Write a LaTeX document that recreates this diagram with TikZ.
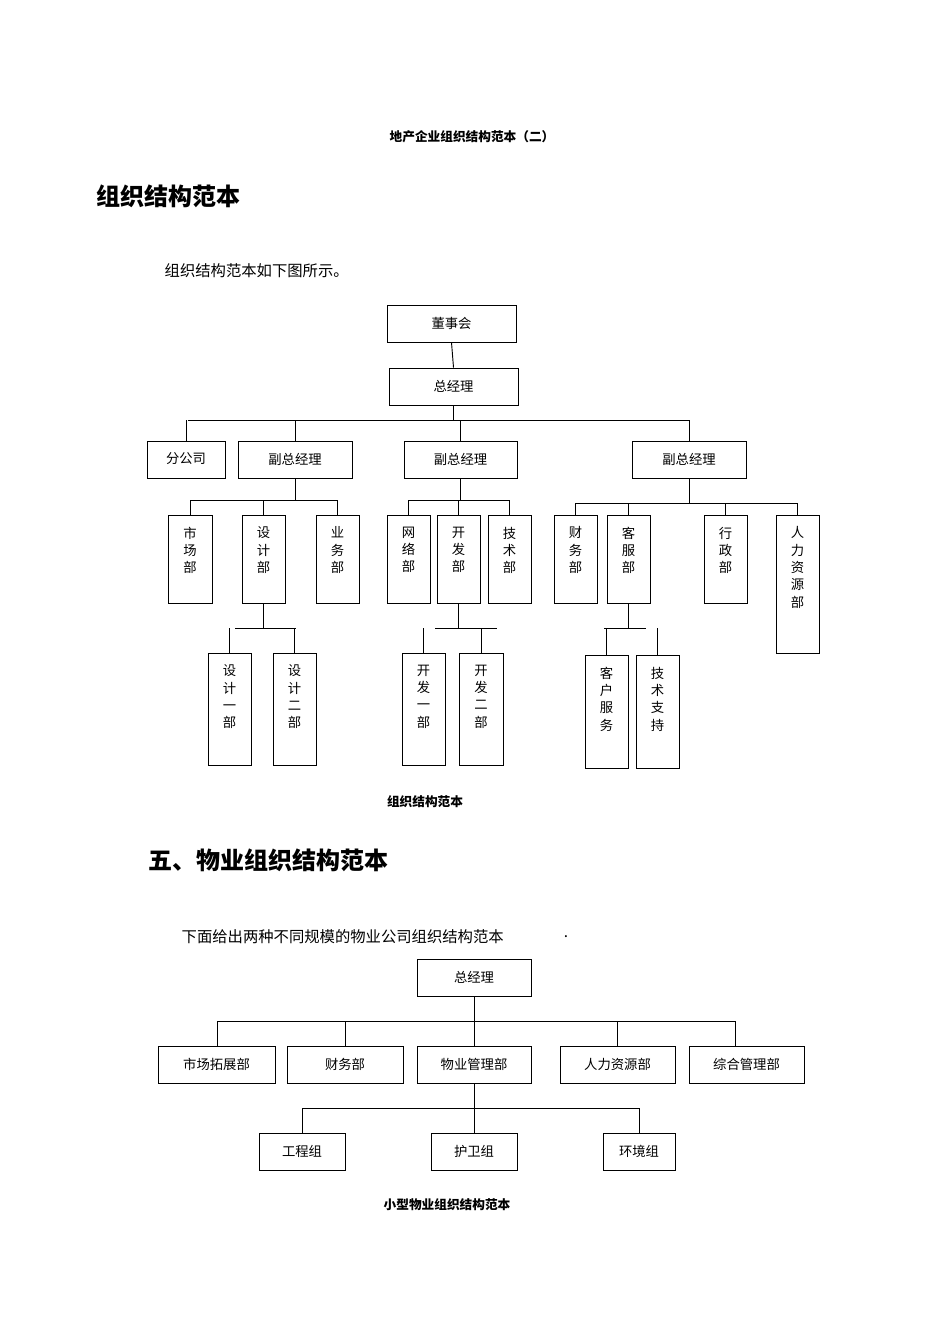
\documentclass[tikz,border=0pt]{standalone}
\usepackage{fontspec}
\setmainfont{Noto Sans CJK SC}
\begin{document}
\begin{tikzpicture}[x=0.75pt,y=-0.75pt,
 bx/.style={draw,line width=0.7pt,inner sep=0pt},
 lbl/.style={font=\fontsize{10}{13}\selectfont,align=center,anchor=north,inner sep=0pt},
 ln/.style={line width=0.7pt}]
\useasboundingbox (0,0) rectangle (950,1344);
\newcommand\bx[6]{\node[bx,minimum width={(#4-#2)*0.75pt},minimum height={(#5-#3)*0.75pt},
  label={[lbl,yshift=-9pt]north:{#6}}] (#1) at ({(#2+#4)/2},{(#3+#5)/2}) {};}
% titles
\node[font=\bfseries\fontsize{9.5}{11}\selectfont] (t0) at (472,137) {地产企业组织结构范本（二）};
\node[font=\bfseries\fontsize{18}{20}\selectfont,anchor=west] (h1) at (92,196) {组织结构范本};
\node[font=\fontsize{11.5}{13}\selectfont,anchor=west] (p1) at (160,271) {组织结构范本如下图所示。};
% chart 1
\bx{dsh}{387}{305}{516}{342}{董事会}
\bx{zjl}{389}{368}{518}{405}{总经理}
\bx{fgs}{147}{441}{225}{478}{分公司}
\bx{f1}{238}{441}{352}{478}{副总经理}
\bx{f2}{404}{441}{517}{478}{副总经理}
\bx{f3}{632}{441}{746}{478}{副总经理}
\bx{a1}{168}{515}{212}{603}{市\\场\\部}
\bx{a2}{242}{515}{285}{603}{设\\计\\部}
\bx{a3}{316}{515}{359}{603}{业\\务\\部}
\bx{a4}{387}{515}{430}{603}{网\\络\\部}
\bx{a5}{437}{515}{480}{603}{开\\发\\部}
\bx{a6}{488}{515}{531}{603}{技\\术\\部}
\bx{a7}{554}{515}{597}{603}{财\\务\\部}
\bx{a8}{607}{515}{650}{603}{客\\服\\部}
\bx{a9}{704}{515}{747}{603}{行\\政\\部}
\bx{a10}{776}{515}{819}{653}{人\\力\\资\\源\\部}
\bx{c1}{208}{653}{251}{765}{设\\计\\一\\部}
\bx{c2}{273}{653}{316}{765}{设\\计\\二\\部}
\bx{c3}{402}{653}{445}{765}{开\\发\\一\\部}
\bx{c4}{459}{653}{503}{765}{开\\发\\二\\部}
\bx{c5}{585}{655}{628}{768}{客\\户\\服\\务}
\bx{c6}{636}{655}{679}{768}{技\\术\\支\\持}
\coordinate (bA) at (188,420); \coordinate (bA2) at (689,420);
\draw[ln] (dsh.south) -- (zjl.north);
\draw[ln] (zjl.south) -- (zjl.south|-bA);
\draw[ln] (bA) -- (bA2);
\foreach \n in {fgs,f1,f2,f3} \draw[ln] (\n.north) -- (\n.north|-bA);
\coordinate (bB) at (190,500); \coordinate (bB2) at (337,500);
\draw[ln] (f1.south) -- (f1.south|-bB); \draw[ln] (bB) -- (bB2);
\foreach \n in {a1,a2,a3} \draw[ln] (\n.north) -- (\n.north|-bB);
\coordinate (bC) at (408,500); \coordinate (bC2) at (510,500);
\draw[ln] (f2.south) -- (f2.south|-bC); \draw[ln] (bC) -- (bC2);
\foreach \n in {a4,a5,a6} \draw[ln] (\n.north) -- (\n.north|-bC);
\coordinate (bD) at (575,503); \coordinate (bD2) at (797,503);
\draw[ln] (f3.south) -- (f3.south|-bD); \draw[ln] (bD) -- (bD2);
\foreach \n in {a7,a8,a9,a10} \draw[ln] (\n.north) -- (\n.north|-bD);
\coordinate (bE) at (235,628); \coordinate (bE2) at (296,628);
\draw[ln] (a2.south) -- (a2.south|-bE); \draw[ln] (bE) -- (bE2);
\foreach \n in {c1,c2} \draw[ln] (\n.north) -- (\n.north|-bE);
\coordinate (bF) at (435,628); \coordinate (bF2) at (497,628);
\draw[ln] (a5.south) -- (a5.south|-bF); \draw[ln] (bF) -- (bF2);
\foreach \n in {c3,c4} \draw[ln] (\n.north) -- (\n.north|-bF);
\coordinate (bG) at (604,628); \coordinate (bG2) at (646,628);
\draw[ln] (a8.south) -- (a8.south|-bG); \draw[ln] (bG) -- (bG2);
\foreach \n in {c5,c6} \draw[ln] (\n.north) -- (\n.north|-bG);
\node[font=\bfseries\fontsize{9.5}{11}\selectfont] (cap1) at (425,802) {组织结构范本};
% section 5
\node[font=\bfseries\fontsize{18}{20}\selectfont,anchor=west] (h2) at (144,860) {五、物业组织结构范本};
\node[font=\fontsize{11.5}{13}\selectfont,anchor=west] (p2) at (177,937) {下面给出两种不同规模的物业公司组织结构范本};
\node[font=\fontsize{11.5}{13}\selectfont] (dot) at (566,937) {.};
\bx{g0}{417}{959}{531}{996}{总经理}
\bx{g1}{158}{1046}{275}{1083}{市场拓展部}
\bx{g2}{287}{1046}{403}{1083}{财务部}
\bx{g3}{417}{1046}{531}{1083}{物业管理部}
\bx{g4}{560}{1046}{675}{1083}{人力资源部}
\bx{g5}{689}{1046}{804}{1083}{综合管理部}
\bx{k1}{259}{1133}{345}{1170}{工程组}
\bx{k2}{431}{1133}{517}{1170}{护卫组}
\bx{k3}{603}{1133}{675}{1170}{环境组}
\coordinate (bH) at (217,1021); \coordinate (bH2) at (735,1021);
\draw[ln] (g0.south) -- (g0.south|-bH); \draw[ln] (bH) -- (bH2);
\draw[ln] (bH) -- (bH|-g1.north);
\draw[ln] (g2.north) -- (g2.north|-bH);
\draw[ln] (g3.north) -- (g3.north|-bH);
\draw[ln] (g4.north) -- (g4.north|-bH);
\draw[ln] (bH2) -- (bH2|-g5.north);
\coordinate (bI) at (302,1108); \coordinate (bI2) at (639,1108);
\draw[ln] (g3.south) -- (g3.south|-bI); \draw[ln] (bI) -- (bI2);
\foreach \n in {k1,k2,k3} \draw[ln] (\n.north) -- (\n.north|-bI);
\node[font=\bfseries\fontsize{9.5}{11}\selectfont] (cap2) at (447,1205) {小型物业组织结构范本};
\end{tikzpicture}
\end{document}
